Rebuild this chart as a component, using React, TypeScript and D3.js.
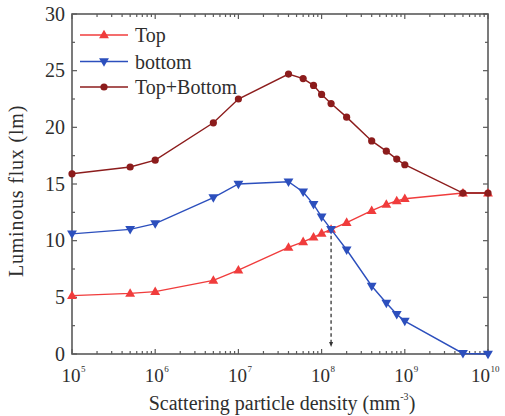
import React, { useEffect, useRef } from 'react';
import * as d3 from 'd3';

// scattering particle density (mm^-3)
const density = [1e5, 5e5, 1e6, 5e6, 1e7, 4e7, 6e7, 8e7, 1e8, 1.3e8, 2e8, 4e8, 6e8, 8e8, 1e9, 5e9, 1e10];
// luminous flux (lm)
const topFlux = [5.15, 5.35, 5.5, 6.5, 7.4, 9.4, 9.9, 10.3, 10.65, 11.0, 11.6, 12.65, 13.2, 13.5, 13.7, 14.2, 14.2];
const bottomFlux = [10.6, 11.0, 11.5, 13.8, 15.0, 15.2, 14.3, 13.2, 12.1, 11.0, 9.2, 6.0, 4.5, 3.5, 2.9, 0.05, 0];
const sumFlux = [15.9, 16.5, 17.1, 20.4, 22.5, 24.7, 24.3, 23.7, 22.9, 22.1, 20.9, 18.8, 17.9, 17.2, 16.7, 14.2, 14.2];

const seriesNames = ['Top', 'bottom', 'Top+Bottom'];
const yTicks = [0, 5, 10, 15, 20, 25, 30];
const xDecades = [5, 6, 7, 8, 9, 10];
const crossing = { x: 1.3e8, y: 11.0 };

const App = () => {
  const svgRef = useRef<SVGSVGElement>(null);

  useEffect(() => {
    const svg = d3.select(svgRef.current);
    svg.selectAll('*').remove();

    const W = 505, H = 416;
    const left = 72, right = 488, top = 14, bottom = 354;
    const font = "'Times New Roman', Times, 'Liberation Serif', Tinos, 'DejaVu Serif', 'Noto Serif', serif";
    const axisCol = '#5a5a5a';
    const textCol = '#2e2e2e';

    svg.attr('width', W).attr('height', H).style('font-family', font);

    const x = d3.scaleLog().domain([1e5, 1e10]).range([left, right]);
    const y = d3.scaleLinear().domain([0, 30]).range([bottom, top]);

    const g = svg.append('g');

    // frame
    g.append('rect')
      .attr('x', left).attr('y', top)
      .attr('width', right - left).attr('height', bottom - top)
      .attr('fill', 'none').attr('stroke', axisCol).attr('stroke-width', 1.6);

    // x ticks (inward, top and bottom)
    const minorX: number[] = [];
    xDecades.slice(0, -1).forEach(p => {
      for (let k = 2; k <= 9; k++) minorX.push(k * Math.pow(10, p));
    });
    const majorX = xDecades.map(p => Math.pow(10, p));
    const tickG = g.append('g').attr('stroke', axisCol).attr('stroke-width', 1.2);
    majorX.forEach(v => {
      tickG.append('line').attr('x1', x(v)).attr('x2', x(v)).attr('y1', bottom).attr('y2', bottom - 5);
      tickG.append('line').attr('x1', x(v)).attr('x2', x(v)).attr('y1', top).attr('y2', top + 5);
    });
    minorX.forEach(v => {
      tickG.append('line').attr('x1', x(v)).attr('x2', x(v)).attr('y1', bottom).attr('y2', bottom - 3);
      tickG.append('line').attr('x1', x(v)).attr('x2', x(v)).attr('y1', top).attr('y2', top + 3);
    });
    // y ticks (inward, left and right)
    yTicks.forEach(v => {
      tickG.append('line').attr('x1', left).attr('x2', left + 5).attr('y1', y(v)).attr('y2', y(v));
      tickG.append('line').attr('x1', right).attr('x2', right - 5).attr('y1', y(v)).attr('y2', y(v));
    });
    yTicks.slice(0, -1).forEach(v => {
      const m = v + 2.5;
      tickG.append('line').attr('x1', left).attr('x2', left + 3).attr('y1', y(m)).attr('y2', y(m));
      tickG.append('line').attr('x1', right).attr('x2', right - 3).attr('y1', y(m)).attr('y2', y(m));
    });

    // y tick labels
    g.append('g').selectAll('text').data(yTicks).enter().append('text')
      .attr('x', left - 7).attr('y', d => y(d) + 6.5)
      .attr('text-anchor', 'end')
      .attr('font-size', 20).attr('fill', textCol)
      .text(d => d);

    // x tick labels: 10^p, the "10" roughly centred on the tick
    xDecades.forEach((p, i) => {
      const last = i === xDecades.length - 1;
      const t = g.append('text')
        .attr('x', x(Math.pow(10, p)) - (last ? 17 : 10.5)).attr('y', 382)
        .attr('font-size', 19).attr('fill', textCol);
      t.append('tspan').text('10');
      t.append('tspan').attr('dy', -10).attr('dx', 0.5).attr('font-size', 9).text(p);
    });

    // axis titles
    const xt = g.append('text')
      .attr('x', 282).attr('y', 410)
      .attr('text-anchor', 'middle')
      .attr('font-size', 20).attr('fill', textCol);
    xt.append('tspan').text('Scattering particle density (mm');
    xt.append('tspan').attr('dy', -10).attr('font-size', 10).text('-3');
    xt.append('tspan').attr('dy', 10).text(')');

    g.append('text')
      .attr('transform', `translate(23,191) rotate(-90)`)
      .attr('text-anchor', 'middle')
      .attr('font-size', 20).attr('fill', textCol)
      .attr('letter-spacing', 0.8)
      .text('Luminous flux (lm)');

    // dashed drop line with arrow at the Top/bottom crossing
    g.append('line')
      .attr('x1', x(crossing.x)).attr('x2', x(crossing.x))
      .attr('y1', y(crossing.y)).attr('y2', y(0) - 8)
      .attr('stroke', '#333').attr('stroke-width', 1.3)
      .attr('stroke-dasharray', '3.5,3');
    const ax = x(crossing.x), ay = y(0) - 8;
    g.append('path')
      .attr('d', `M${ax - 2},${ay - 4} L${ax + 2},${ay - 4} L${ax},${ay + 1} Z`)
      .attr('fill', '#333');

    const series = [
      { name: seriesNames[0], values: topFlux, color: '#f03c3c', shape: 'up' },
      { name: seriesNames[1], values: bottomFlux, color: '#2c4fbd', shape: 'down' },
      { name: seriesNames[2], values: sumFlux, color: '#8c1c1c', shape: 'circle' },
    ];

    const line = d3.line<number>()
      .x((_, i) => x(density[i]))
      .y(d => y(d));

    const tri = d3.symbol().type(d3.symbolTriangle).size(42);
    const drawMarker = (sel: any, shape: string, color: string, px: number, py: number) => {
      if (shape === 'circle') {
        sel.append('circle').attr('cx', px).attr('cy', py).attr('r', 3.6).attr('fill', color);
      } else {
        sel.append('path').attr('d', tri())
          .attr('transform', `translate(${px},${py + (shape === 'up' ? 0.5 : -0.5)}) rotate(${shape === 'up' ? 0 : 180})`)
          .attr('fill', color);
      }
    };

    series.forEach(s => {
      const sg = g.append('g');
      sg.append('path')
        .datum(s.values)
        .attr('d', line)
        .attr('fill', 'none')
        .attr('stroke', s.color)
        .attr('stroke-width', 1.4);
      s.values.forEach((v, i) => drawMarker(sg, s.shape, s.color, x(density[i]), y(v)));
    });

    // legend
    const legRows = [35, 61.5, 87];
    series.forEach((s, i) => {
      const ly = legRows[i];
      const lg = g.append('g');
      lg.append('line').attr('x1', 80).attr('x2', 128).attr('y1', ly).attr('y2', ly)
        .attr('stroke', s.color).attr('stroke-width', 1.4);
      drawMarker(lg, s.shape, s.color, 104, ly);
      lg.append('text')
        .attr('x', 135).attr('y', ly + 7)
        .attr('font-size', 20).attr('fill', textCol)
        .text(s.name);
    });
  }, []);

  return (
    <svg ref={svgRef} style={{ position: 'absolute', left: 0, top: 0 }}></svg>
  );
};

export default App;
